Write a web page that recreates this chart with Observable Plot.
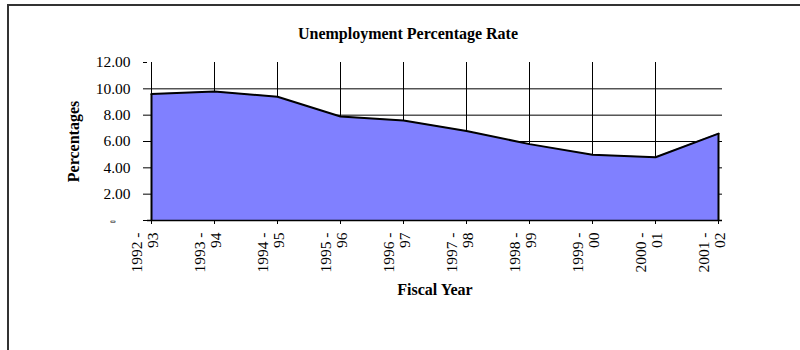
<!DOCTYPE html>
<html>
<head>
<meta charset="utf-8">
<script src="https://cdn.jsdelivr.net/npm/d3@7"></script>
<script src="https://cdn.jsdelivr.net/npm/@observablehq/plot@0.6"></script>
<style>
  html, body { margin: 0; padding: 0; background: #fff; overflow: hidden; }
  #wrap { position: relative; width: 800px; height: 350px; }
  #wrap svg, #wrap svg text {
    font-family: "Liberation Serif", "Times New Roman", serif !important;
  }
  #border {
    position: absolute; left: 7px; top: 4px; width: 900px; height: 500px;
    border-left: 2px solid #333; border-top: 2px solid #333;
    pointer-events: none;
  }
</style>
</head>
<body>
<div id="wrap"><div id="border"></div></div>
<script>
// Fiscal years and unemployment rate (%)
const fiscalYears = ["1992-93", "1993-94", "1994-95", "1995-96", "1996-97",
                     "1997-98", "1998-99", "1999-00", "2000-01", "2001-02"];
const tickLabels = ["1992 -\n93", "1993 -\n94", "1994 -\n95", "1995 -\n96", "1996 -\n97",
                    "1997 -\n98", "1998 -\n99", "1999 -\n00", "2000 -\n01", "2001 -\n02"];
const rates = [9.6, 9.8, 9.4, 7.9, 7.6, 6.8, 5.8, 5.0, 4.8, 6.6];
const yTicks = [0, 2, 4, 6, 8, 10, 12];
const gridValues = [2, 4, 6, 8, 10];

const title = "Unemployment Percentage Rate";
const yTitle = "Percentages";
const xTitle = "Fiscal Year";

const data = fiscalYears.map((year, i) => ({year, rate: rates[i]}));
const labelOf = new Map(fiscalYears.map((y, i) => [y, tickLabels[i]]));
const first = data[0];
const last = data[data.length - 1];

const chart = Plot.plot({
  width: 800,
  height: 350,
  marginLeft: 147,
  marginRight: 78,
  marginTop: 62,
  marginBottom: 130,
  style: {fontSize: "15px", color: "#000", background: "transparent"},
  x: {type: "point", domain: fiscalYears, padding: 0},
  y: {domain: [0, 12]},
  marks: [
    // grid
    Plot.ruleY(gridValues, {stroke: "#000", strokeWidth: 1}),
    Plot.ruleX(fiscalYears.slice(0, -1), {y1: 0, y2: 12, stroke: "#000", strokeWidth: 1}),
    // series
    Plot.areaY(data, {x: "year", y: "rate", fill: "#8080FF", curve: "linear"}),
    Plot.lineY(data, {x: "year", y: "rate", stroke: "#000", strokeWidth: 2}),
    Plot.ruleX([last], {x: "year", y1: 0, y2: "rate", stroke: "#000", strokeWidth: 2}),
    Plot.ruleX([first], {x: "year", y1: 0, y2: "rate", stroke: "#000", strokeWidth: 2}),
    // y axis: numbers with two decimals; zero is shown as a dash set further in
    Plot.axisY(yTicks, {
      tickSize: 4, tickPadding: 13, label: null,
      tickFormat: d => d === 0 ? "" : d.toFixed(2), fontSize: 15.5
    }),
    Plot.text(yTicks.filter(d => d === 0), {
      y: d => d, text: () => "-", frameAnchor: "left", textAnchor: "end",
      dx: -32, fontSize: 16, stroke: "#000", strokeWidth: 0.6
    }),
    // x axis: tick marks, then the two-line rotated labels
    Plot.axisX({tickSize: 4, tickFormat: () => "", label: null}),
    Plot.axisX({
      tickSize: 0, tickPadding: 12, label: null, tickRotate: -90,
      textAnchor: "end", lineHeight: 1.07, dx: -7,
      tickFormat: d => labelOf.get(d), fontSize: 15.5
    }),
    Plot.ruleY([0], {stroke: "#000", strokeWidth: 1.5}),
    // titles
    Plot.text([title], {frameAnchor: "top", lineAnchor: "middle", dx: -27, dy: -29,
                        fontWeight: "bold", fontSize: 16}),
    Plot.text([yTitle], {frameAnchor: "left", textAnchor: "middle", lineAnchor: "middle",
                         dx: -74, rotate: -90, fontWeight: "bold", fontSize: 16}),
    Plot.text([xTitle], {frameAnchor: "bottom", lineAnchor: "middle", dy: 69,
                         fontWeight: "bold", fontSize: 16})
  ]
});

document.getElementById("wrap").prepend(chart);
</script>
</body>
</html>
